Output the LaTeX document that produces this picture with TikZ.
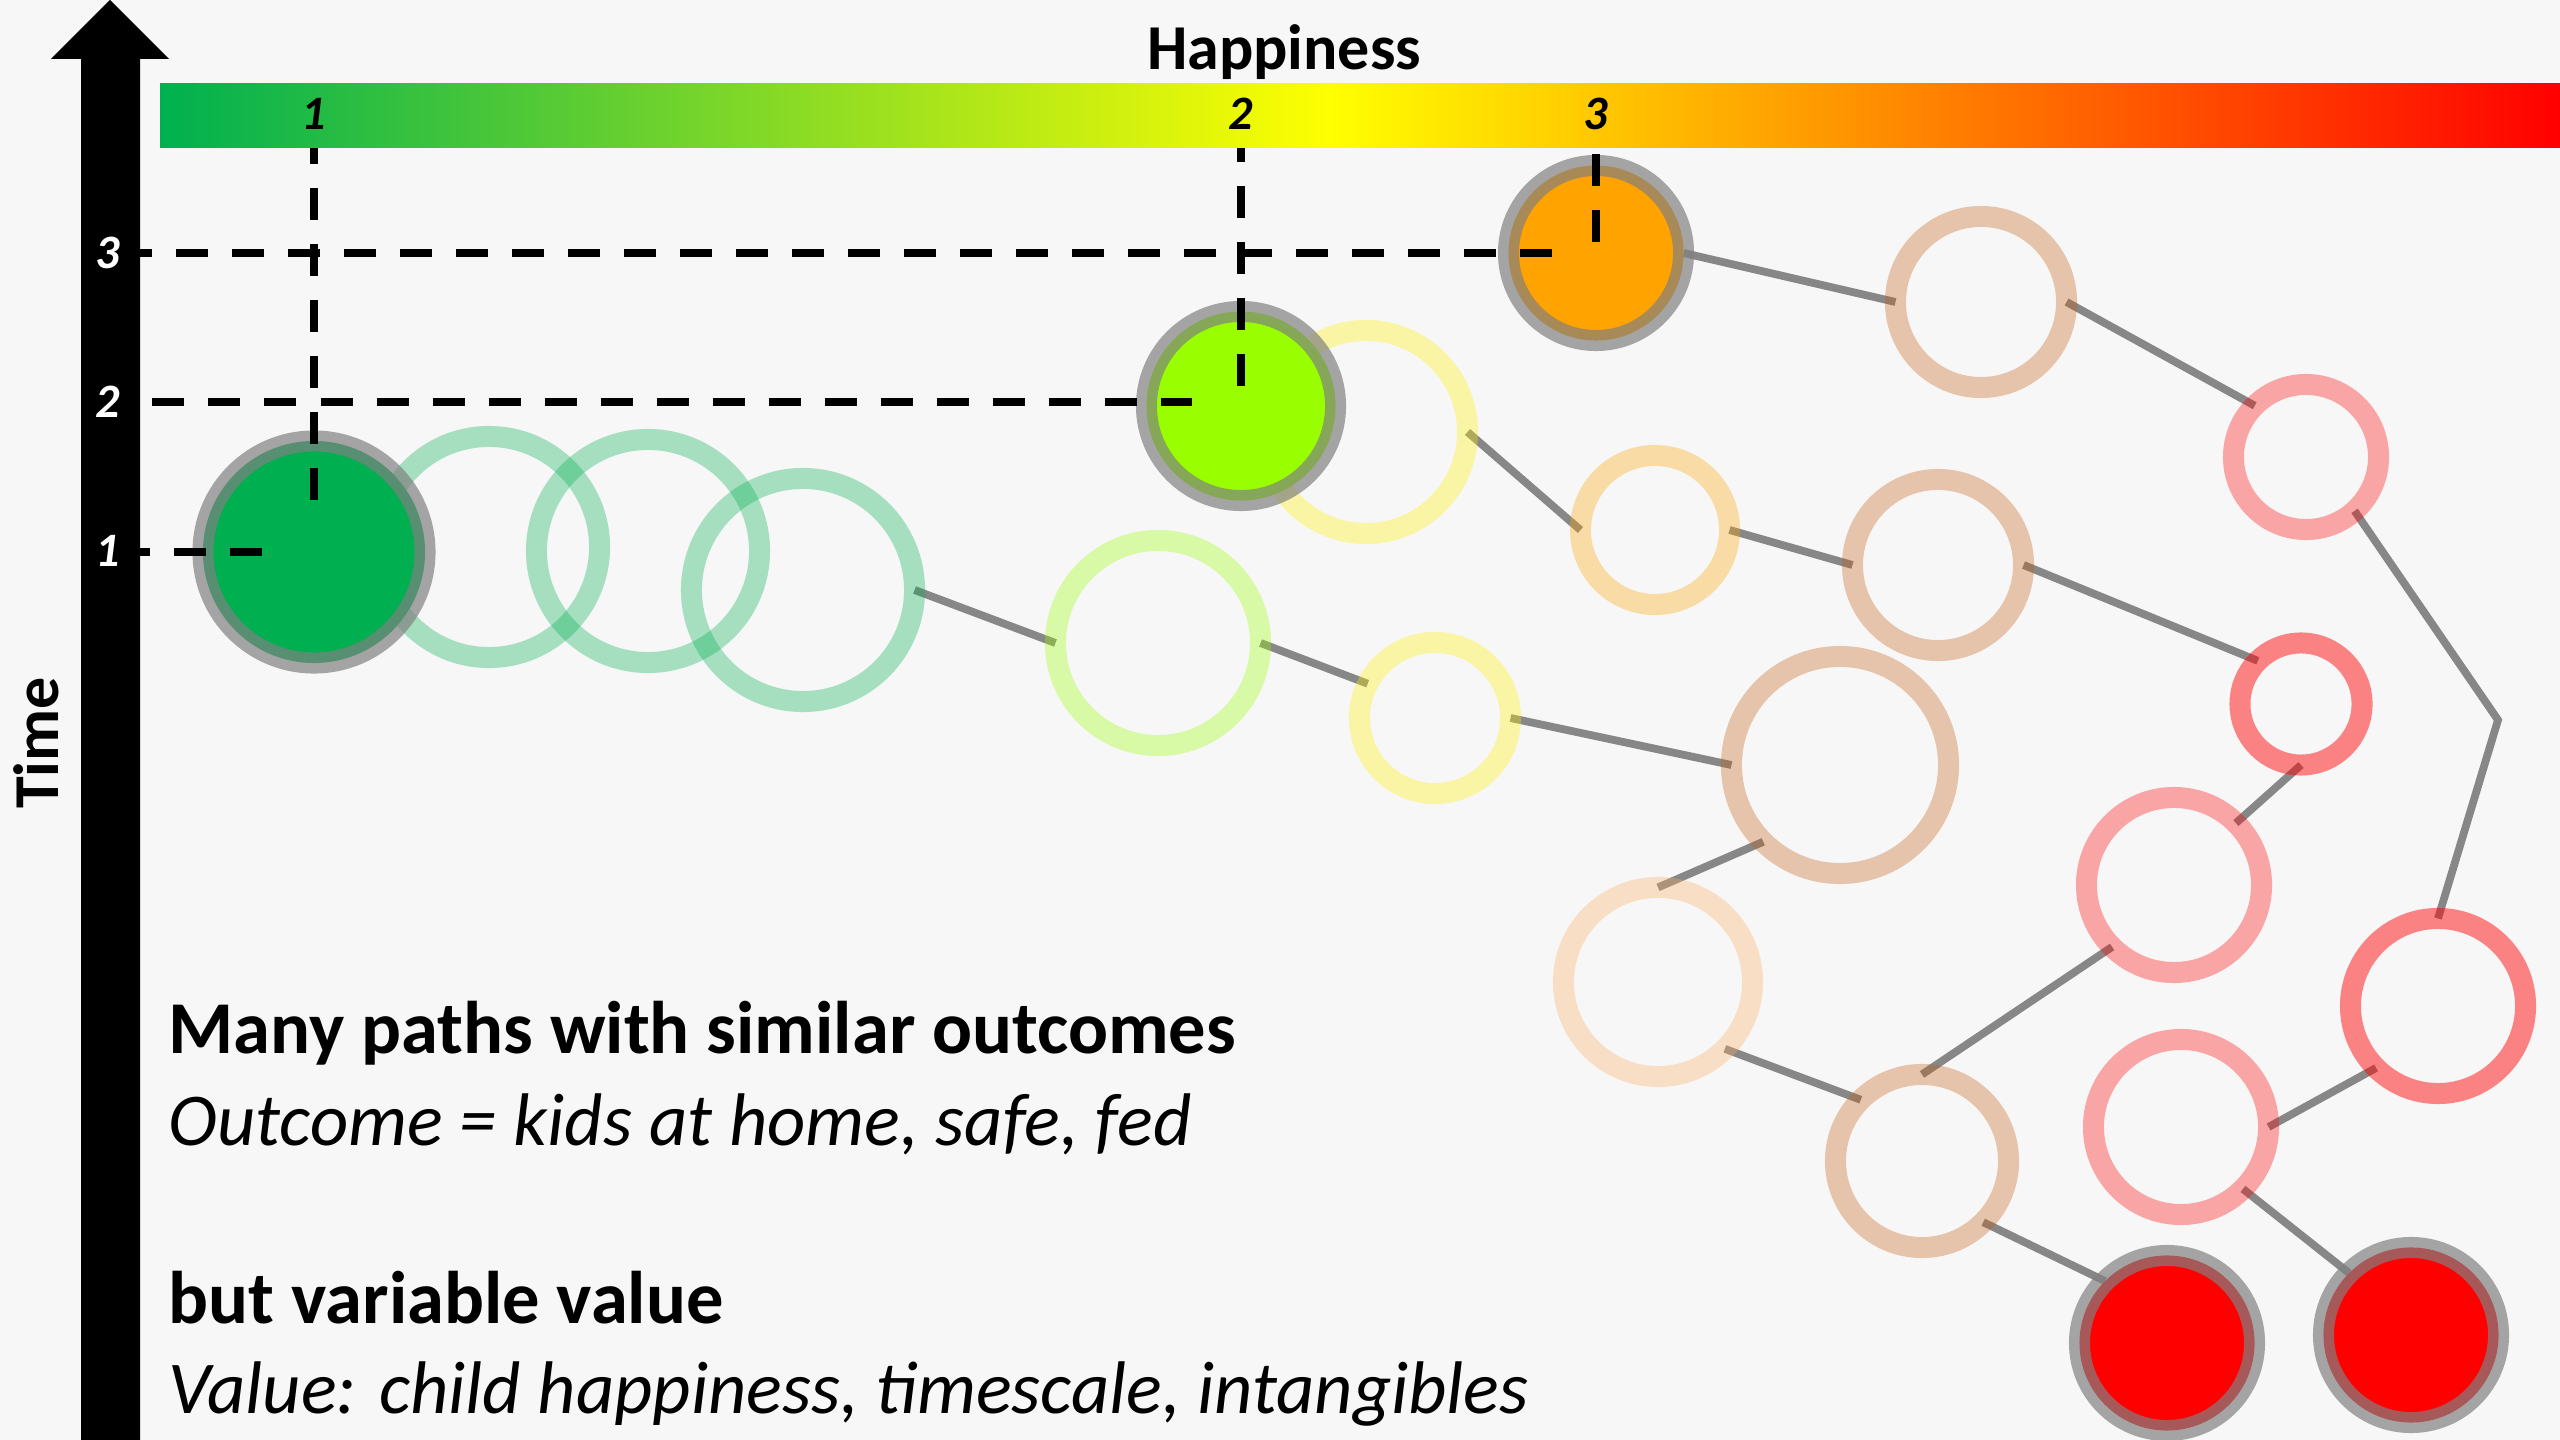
\documentclass[tikz,border=0pt]{standalone}
\usepackage{fontspec}
\setmainfont{Carlito}
\usetikzlibrary{backgrounds}

\definecolor{bgcol}{HTML}{F7F7F7}
\definecolor{hgreen}{HTML}{00B050}
\definecolor{hlime}{HTML}{99FF00}
\definecolor{horange}{HTML}{FFA300}
\definecolor{htan}{HTML}{C55A11}
\definecolor{hpeach}{HTML}{FAAE62}
\definecolor{linkgray}{HTML}{878787}

\begin{document}
\begin{tikzpicture}[
	x=0.01cm, y=-0.01cm,
	line cap=butt,
	ring/.style={circle, draw=#1, draw opacity=0.33, line width=0.21cm, inner sep=0pt, outer sep=0pt},
	bubble/.style={circle, fill=#1, draw=gray, draw opacity=0.69, line width=0.21cm, inner sep=0pt, outer sep=0pt},
	link/.style={draw=linkgray, line width=0.078cm},
	guide/.style={line width=0.083cm, dash pattern=on 0.32cm off 0.24cm},
	tick/.style={font=\fontsize{13.65}{16}\selectfont\bfseries\itshape, inner sep=0pt},
	title/.style={font=\fontsize{18.2}{22}\selectfont\bfseries, inner sep=0pt},
	head/.style={font=\fontsize{21.2}{25}\selectfont\bfseries, anchor=base west, inner sep=0pt},
	note/.style={font=\fontsize{21.2}{25}\selectfont\itshape, anchor=base west, inner sep=0pt}
	]
	
	% Canvas
	\useasboundingbox (0,0) rectangle (2560,1440);
	
	% Open rings along the paths
	\node[ring=hgreen, minimum size=2.21cm] (g1) at (489,547) {};
	\node[ring=hgreen, minimum size=2.23cm] (g2) at (648,551) {};
	\node[ring=hgreen, minimum size=2.23cm] (g3) at (803,590) {};
	\node[ring=yellow, minimum size=2.03cm] (y1) at (1366,432) {};
	\node[ring=hlime, minimum size=2.05cm] (l1) at (1158,643) {};
	\node[ring=yellow, minimum size=1.51cm] (y2) at (1435,718) {};
	\node[ring=horange, minimum size=1.49cm] (o1) at (1655,530) {};
	\node[ring=htan, minimum size=1.71cm] (t1) at (1981,302) {};
	\node[ring=htan, minimum size=1.71cm] (t2) at (1938,565) {};
	\node[ring=htan, minimum size=2.17cm] (t3) at (1840,765) {};
	\node[ring=htan, minimum size=1.73cm] (t4) at (1922,1161) {};
	\node[ring=hpeach, minimum size=1.89cm] (p1) at (1658,982) {};
	\node[ring=red, minimum size=1.45cm] (k1) at (2306,457) {};
	\node[ring=red, draw opacity=0.47, minimum size=1.22cm] (k2) at (2301,704) {};
	\node[ring=red, minimum size=1.75cm] (k3) at (2174,885) {};
	\node[ring=red, draw opacity=0.47, minimum size=1.75cm] (k4) at (2438,1006) {};
	\node[ring=red, minimum size=1.75cm] (k5) at (2181,1127) {};
	
	% Filled states
	\node[bubble=hgreen, minimum size=2.22cm] (f1) at (314,552) {};
	\node[bubble=hlime, minimum size=1.89cm] (f2) at (1241,406) {};
	\node[bubble=horange, minimum size=1.75cm] (f3) at (1596,253) {};
	\node[bubble=red, minimum size=1.75cm] (f4) at (2167,1343) {};
	\node[bubble=red, minimum size=1.75cm] (f5) at (2411,1335) {};
	
	% Links, behind the rings
	\coordinate (bend) at (2498,720);
	\begin{scope}[on background layer]
		\fill[bgcol] (0,0) rectangle (2560,1440);
		\draw[link] (g3.east) -- (l1.west);
		\draw[link] (l1.east) -- (y2.153);
		\draw[link] (y2.east) -- (t3.west);
		\draw[link] (y1.east) -- (o1.west);
		\draw[link] (o1.east) -- (t2.west);
		\draw[link] (f3.east) -- (t1.west);
		\draw[link] (t1.east) -- (k1.135);
		\draw[link] (t2.east) -- (k2.135);
		\draw[link] (k1.-48) -- (bend) -- (k4.north);
		\draw[link] (k2.south) -- (k3.45);
		\draw[link] (k3.225) -- (t4.north);
		\draw[link] (t3.225) -- (p1.north);
		\draw[link] (p1.-45) -- (t4.135);
		\draw[link] (t4.-45) -- (f4.135);
		\draw[link] (k5.-45) -- (f5.135);
		\draw[link] (k5.east) -- (k4.225);
	\end{scope}
	
	% Dashed guides to the axes
	\draw[guide] (119.5,253) -- (1551.5,253);
	\draw[guide] (152.4,402) -- (1192.4,402);
	\draw[guide] (117.5,552) -- (261.5,552);
	\draw[guide] (314,132) -- (314,500);
	\draw[guide] (1241,130) -- (1241,386);
	\draw[guide] (1596,154) -- (1596,242);
	
	% Happiness scale
	\shade[left color=hgreen, right color=yellow] (160,84) rectangle (1331,148);
	\shade[left color=yellow, right color=red] (1330,84) rectangle (2560,148);
	\node[tick] (h1) at (314,114) {1};
	\node[tick] (h2) at (1241,114) {2};
	\node[tick] (h3) at (1596,114) {3};
	\node[title, anchor=base] (happy) at (1284,70) {Happiness};
	
	% Time axis
	\fill (81,1440) -- (81,59) -- (51,59) -- (110,0) -- (169,59) -- (140,59) -- (140,1440) -- cycle;
	\node[tick, text=white] (s3) at (108,253) {3};
	\node[tick, text=white] (s2) at (108,402) {2};
	\node[tick, text=white] (s1) at (108,551) {1};
	\node[title, rotate=90] (time) at (36,743) {Time};
	
	% Caption
	\node[head] (many) at (168,1054) {Many paths with similar outcomes};
	\node[note] (outcome) at (168,1145) {Outcome = kids at home, safe, fed};
	\node[head] (but) at (168,1323) {but variable value};
	\node[note] (value) at (168,1413) {Value: child happiness, timescale, intangibles};
	
\end{tikzpicture}
\end{document}
